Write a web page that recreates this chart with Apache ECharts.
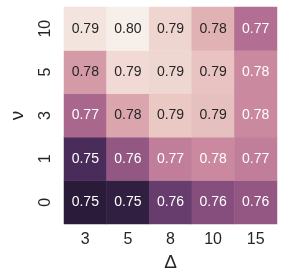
<!DOCTYPE html>
<html>
<head>
<meta charset="utf-8">
<script src="https://cdn.jsdelivr.net/npm/echarts@6/dist/echarts.min.js"></script>
<style>html,body{margin:0;padding:0;background:#fff}#c{width:284px;height:278px}</style>
</head>
<body>
<div id="c"></div>
<script>
// Columns (Δ) and rows (ν, bottom to top)
const deltaLabels = ['3', '5', '8', '10', '15'];
const nuLabels = ['0', '1', '3', '5', '10'];
// values per row of ν, columns in Δ order
const row_nu0  = [0.7468, 0.7480, 0.7573, 0.7623, 0.7648];
const row_nu1  = [0.7522, 0.7647, 0.7741, 0.7766, 0.7741];
const row_nu3  = [0.7689, 0.7820, 0.7889, 0.7871, 0.7766];
const row_nu5  = [0.7800, 0.7922, 0.7915, 0.7877, 0.7766];
const row_nu10 = [0.7940, 0.7962, 0.7912, 0.7845, 0.7708];
const rows = [row_nu0, row_nu1, row_nu3, row_nu5, row_nu10];

const data = [];
rows.forEach((r, yi) => r.forEach((v, xi) => data.push([xi, yi, v])));
const all = rows.flat();
const vmin = Math.min(...all), vmax = Math.max(...all);

const chart = echarts.init(document.getElementById('c'), null, {renderer: 'canvas'});
const font = '"Liberation Sans", Arial, sans-serif';
chart.setOption({
  backgroundColor: '#ffffff',
  animation: false,
  grid: {left: 54, right: 7, top: 7, bottom: 54, containLabel: false},
  xAxis: {
    type: 'category', data: deltaLabels,
    name: 'Δ', nameLocation: 'middle', nameGap: 21,
    nameTextStyle: {fontFamily: font, fontSize: 19, color: '#262626', verticalAlign: 'top'},
    axisLine: {show: false}, axisTick: {show: false}, splitLine: {show: false},
    axisLabel: {fontFamily: font, fontSize: 16, color: '#262626', margin: 8}
  },
  yAxis: {
    type: 'category', data: nuLabels,
    name: 'ν', nameLocation: 'middle', nameGap: 37, nameRotate: 90,
    nameTextStyle: {fontFamily: font, fontSize: 19, color: '#262626'},
    axisLine: {show: false}, axisTick: {show: false}, splitLine: {show: false},
    axisLabel: {fontFamily: font, fontSize: 16, color: '#262626', margin: 10, rotate: 90}
  },
  visualMap: {
    show: false, type: 'continuous', min: vmin, max: vmax, dimension: 2,
    inRange: {color: ['#2a1b3a', '#4d2e5e', '#724374', '#975985', '#b67295',
                      '#cf8ea2', '#dfafb1', '#edcfca', '#f7efe9']}
  },
  series: [{
    type: 'heatmap', data: data,
    itemStyle: {borderWidth: 0},
    emphasis: {disabled: true},
    label: {
      show: true,
      formatter: p => (p.value[2] >= 0.778 ? '{d|' : '{l|') + p.value[2].toFixed(2) + '}',
      rich: {
        d: {fontFamily: font, fontSize: 14, color: '#262626'},
        l: {fontFamily: font, fontSize: 14, color: '#ffffff'}
      }
    }
  }]
});
</script>
</body>
</html>
